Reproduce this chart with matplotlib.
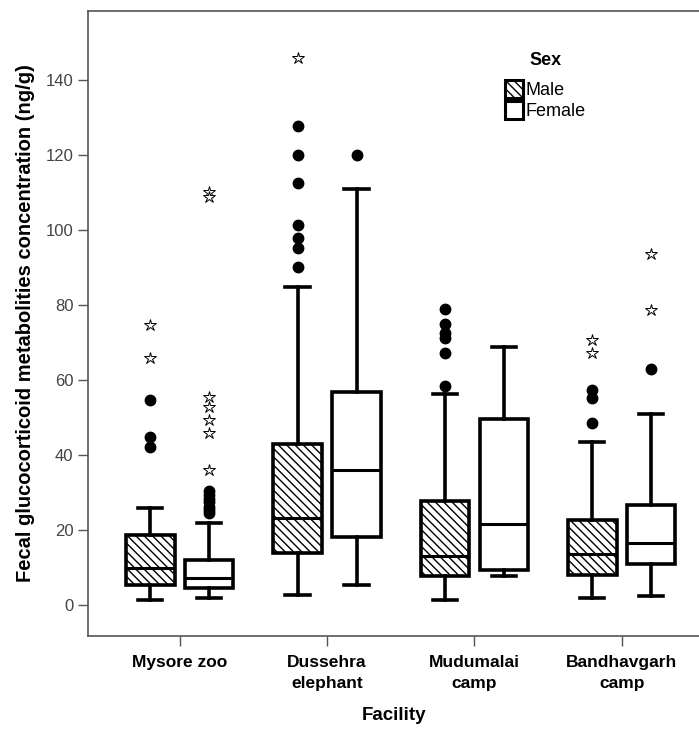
import matplotlib

matplotlib.use("Agg")
import matplotlib.pyplot as plt
from matplotlib.patches import Patch

plt.rcParams["font.family"] = ["Liberation Sans", "DejaVu Sans"]
plt.rcParams["hatch.linewidth"] = 1.0

facilities = ["Mysore zoo", "Dussehra\nelephant", "Mudumalai\ncamp", "Bandhavgarh\ncamp"]
sexes = ["Male", "Female"]

# five-number summaries per facility: (whislo, q1, med, q3, whishi)
male_stats = [
    (1.3, 5.3, 9.9, 18.7, 25.9),
    (2.7, 13.9, 23.1, 42.9, 84.9),
    (1.3, 7.7, 13.1, 27.6, 56.2),
    (1.8, 8.0, 13.6, 22.5, 43.4),
]
female_stats = [
    (1.9, 4.5, 7.2, 12.0, 21.9),
    (5.3, 18.2, 36.0, 56.9, 110.9),
    (7.6, 9.3, 21.6, 49.5, 68.9),
    (2.4, 10.8, 16.4, 26.7, 50.9),
]

# outliers (circles) and extremes (stars)
male_out = [
    [54.7, 44.9, 42.2],
    [127.6, 120.0, 112.4, 101.3, 97.8, 95.1, 90.2],
    [78.8, 74.9, 72.4, 71.1, 67.3, 58.4],
    [57.3, 55.1, 48.6],
]
male_ext = [
    [74.7, 65.8],
    [145.8],
    [],
    [70.7, 67.3],
]
female_out = [
    [30.4, 29.2, 28.2, 27.3, 26.2, 25.2, 24.5],
    [120.0],
    [],
    [62.8],
]
female_ext = [
    [110.1, 108.8, 55.5, 52.9, 49.3, 45.8, 36.0],
    [],
    [],
    [93.6, 78.7],
]

yticks = [0, 20, 40, 60, 80, 100, 120, 140]

fig = plt.figure(figsize=(6.99, 7.31), dpi=100)
ax = fig.add_axes([0.126, 0.13, 0.876, 0.855])

offset, width = 0.2, 0.33
groups = [(male_stats, male_out, male_ext, -offset, "\\\\\\\\"),
          (female_stats, female_out, female_ext, offset, "")]
for stats, outs, exts, off, hatch in groups:
    bstats = []
    for s in stats:
        lo, q1, med, q3, hi = s
        bstats.append(dict(whislo=lo, q1=q1, med=med, q3=q3, whishi=hi, fliers=[]))
    pos = [i + off for i in range(len(stats))]
    bp = ax.bxp(bstats, positions=pos, widths=width, patch_artist=True,
                showfliers=False, capwidths=width * 0.5,
                boxprops=dict(facecolor="white", edgecolor="black", linewidth=2.6),
                medianprops=dict(color="black", linewidth=2.2),
                whiskerprops=dict(color="black", linewidth=2.6),
                capprops=dict(color="black", linewidth=2.6))
    for b in bp["boxes"]:
        b.set_hatch(hatch)
    for p, o, e in zip(pos, outs, exts):
        ax.plot([p] * len(o), o, "o", color="black", ms=7.5, zorder=3)
        ax.plot([p] * len(e), e, "*", mfc="white", mec="black", mew=0.7,
                ms=9, zorder=3)

ax.set_xlim(-0.622, 3.534)
ax.set_ylim(-8.3, 158.4)
ax.set_xticks(range(len(facilities)), facilities, fontsize=12.5,
              fontweight="bold", linespacing=1.45)
ax.set_yticks(yticks, [str(t) for t in yticks], fontsize=12, color="#444444")
ax.tick_params(axis="both", direction="out", length=7, width=1, color="#555555")
ax.tick_params(axis="x", pad=7)
ax.spines["right"].set_visible(False)
for sp in ("left", "bottom", "top"):
    ax.spines[sp].set_color("#555555")
    ax.spines[sp].set_linewidth(1.2)
ax.set_xlabel("Facility", fontsize=13.5, fontweight="bold", labelpad=12)
ax.set_ylabel("Fecal glucocorticoid metabolities concentration (ng/g)",
              fontsize=14.5, fontweight="bold", labelpad=8)

handles = [Patch(facecolor="white", edgecolor="black", linewidth=2.2, hatch="\\\\\\\\"),
           Patch(facecolor="white", edgecolor="black", linewidth=2.2)]
leg = ax.legend(handles, sexes, title="Sex", loc="upper left",
                bbox_to_anchor=(0.66, 0.955), frameon=False, fontsize=13,
                handlelength=1.0, handleheight=1.2, handletextpad=0.15,
                labelspacing=0.08, borderpad=0.2)
leg.get_title().set_fontweight("bold")
leg.get_title().set_fontsize(13)
leg._legend_box.sep = 8

fig.savefig("out.png", dpi=100, facecolor="white")
